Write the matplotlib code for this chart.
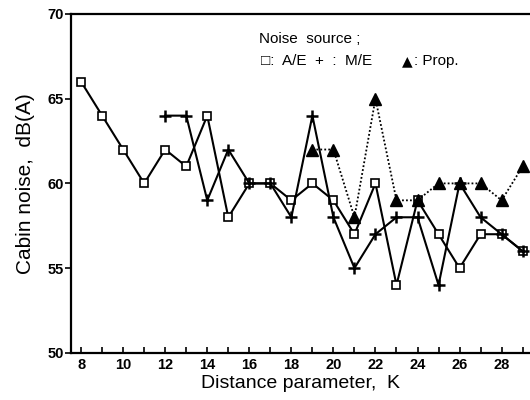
import matplotlib.pyplot as plt

plt.rcParams["font.family"] = ["Liberation Sans", "DejaVu Sans"]

k_ae = [8, 9, 10, 11, 12, 13, 14, 15, 16, 17, 18, 19, 20, 21, 22, 23, 24, 25, 26, 27, 28, 29]
noise_ae = [66, 64, 62, 60, 62, 61, 64, 58, 60, 60, 59, 60, 59, 57, 60, 54, 59, 57, 55, 57, 57, 56]

k_me = [12, 13, 14, 15, 16, 17, 18, 19, 20, 21, 22, 23, 24, 25, 26, 27, 28, 29]
noise_me = [64, 64, 59, 62, 60, 60, 58, 64, 58, 55, 57, 58, 58, 54, 60, 58, 57, 56]

k_prop = [19, 20, 21, 22, 23, 24, 25, 26, 27, 28, 29]
noise_prop = [62, 62, 58, 65, 59, 59, 60, 60, 60, 59, 61]

x_ticks = list(range(8, 30))
x_labels = [str(k) if k % 2 == 0 else "" for k in x_ticks]
y_ticks = [50, 55, 60, 65, 70]

fig = plt.figure(figsize=(5.3, 4.0), dpi=100)
ax = fig.add_axes([0.134, 0.118, 0.866, 0.847])

ax.plot(k_ae, noise_ae, color="black", linewidth=1.5, marker="s", markersize=6.3,
        markerfacecolor="white", markeredgecolor="black", markeredgewidth=1.2, zorder=3)
ax.plot(k_me, noise_me, color="black", linewidth=1.5, marker="+", markersize=8,
        markeredgewidth=1.8, zorder=4)
ax.plot(k_prop, noise_prop, color="black", linewidth=1.3, linestyle=(0, (1, 1.2)),
        marker="^", markersize=8, markerfacecolor="black", zorder=5)

ax.set_xlim(7.52, 29.35)
ax.set_ylim(50, 70)
ax.set_xticks(x_ticks)
ax.set_xticklabels(x_labels, fontsize=10.5, fontweight="bold")
ax.set_yticks(y_ticks)
ax.set_yticklabels([str(v) for v in y_ticks], fontsize=10.5, fontweight="bold")
ax.tick_params(axis="x", direction="in", length=4, width=1.2, pad=4)
ax.tick_params(axis="y", direction="out", length=4, width=1.2, pad=1)

for side in ["left", "bottom", "top"]:
    ax.spines[side].set_linewidth(1.6)
ax.spines["right"].set_visible(False)

ax.set_xlabel("Distance parameter,  K", fontsize=14, labelpad=2)
ax.set_ylabel("Cabin noise,  dB(A)", fontsize=15, labelpad=9)

# legend written as plain text, like the original figure
ax.text(0.41, 0.915, "Noise  source ;", transform=ax.transAxes, fontsize=11)
ax.text(0.415, 0.85, "\u25a1:  A/E  +  :  M/E", transform=ax.transAxes, fontsize=11)
ax.text(0.72, 0.85, "\u25b2", transform=ax.transAxes, fontsize=10, family=["DejaVu Sans"])
ax.text(0.748, 0.85, ": Prop.", transform=ax.transAxes, fontsize=11)

fig.savefig("out.png", dpi=100)
